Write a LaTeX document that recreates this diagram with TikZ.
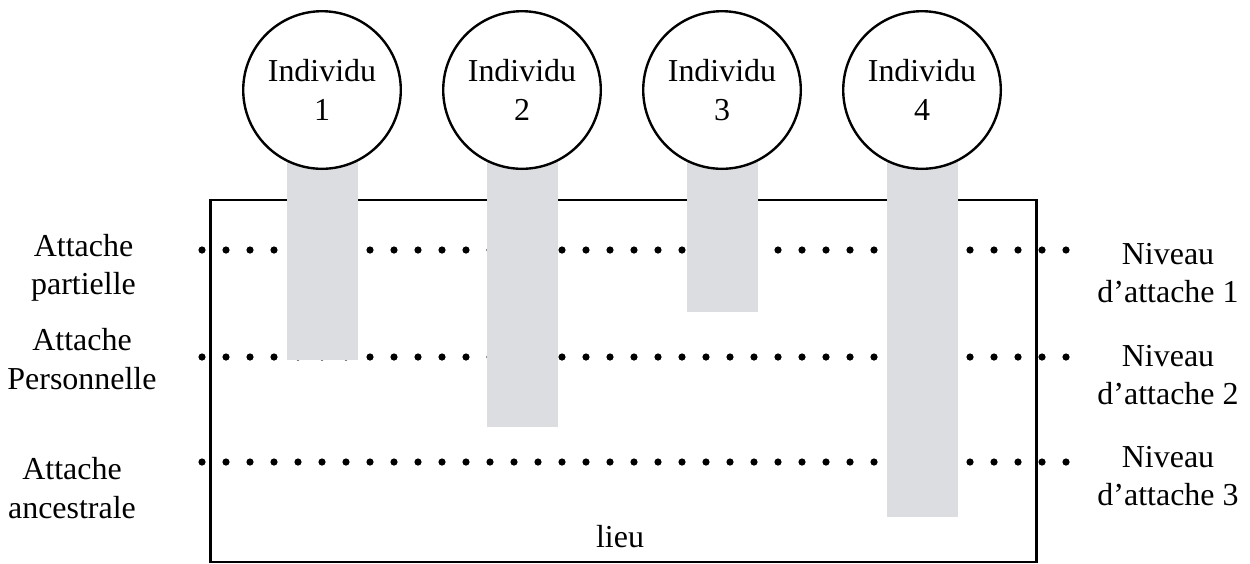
\documentclass[tikz,border=0pt]{standalone}
\usepackage{fontspec}
\setmainfont{Liberation Serif}
\definecolor{bandgray}{RGB}{220,221,224}
\def\dotsep{24}

\begin{document}
\begin{tikzpicture}[x=0.0132cm,y=-0.0132cm,font=\fontsize{12}{14.4}\selectfont]
    \tikzstyle{individu}=[circle,line width=0.9pt,draw=black,fill=white,minimum size=2.08cm,inner sep=0pt,align=center]
    \tikzstyle{bande}=[fill=bandgray]
    \tikzstyle{annot}=[align=center,inner sep=0pt]
    \useasboundingbox (0,0) rectangle (1250,563);

    \draw[line width=0.9pt] (210.5,200) rectangle (1036.5,562);
    \node[annot] (lieu) at (620,537) {lieu};

    % niveaux d'attache
    \foreach \y in {250,357,462}
        \foreach \i in {0,...,36}
            \fill (202+\i*\dotsep,\y) circle (1.35pt);

    % individus et leurs bandes
    \foreach \x/\b/\n in {322/360/1,522/427/2,722/312/3,922/517/4} {
        \fill[bande] (\x-35.5,90) rectangle (\x+35.5,\b);
        \node[individu] (ind\n) at (\x,90) {Individu\\\n};
    }

    \node[annot] (partielle) at (83.5,268) {Attache\\partielle};
    \node[annot] (personnelle) at (82,359) {Attache\\Personnelle};
    \node[annot] (ancestrale) at (72,488) {Attache\\ancestrale};

    \node[annot] (niveau1) at (1168,273) {Niveau\\d'attache 1};
    \node[annot] (niveau2) at (1168,375) {Niveau\\d'attache 2};
    \node[annot] (niveau3) at (1168,476) {Niveau\\d'attache 3};
\end{tikzpicture}
\end{document}
